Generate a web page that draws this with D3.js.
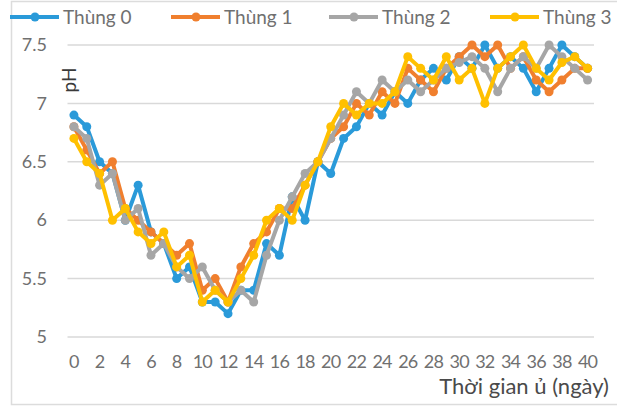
<!DOCTYPE html>
<html>
<head>
<meta charset="utf-8">
<script src="https://cdn.jsdelivr.net/npm/d3@7/dist/d3.min.js"></script>
<style>
  html, body { margin: 0; padding: 0; background: #fff; }
  svg { display: block; font-family: Lato, "Open Sans", sans-serif; }
</style>
</head>
<body>
<svg id="chart" width="617" height="408"></svg>
<script>
// Composting days (0..40) and pH of each bin
const days = d3.range(0, 41);
const dayTicks = [0, 2, 4, 6, 8, 10, 12, 14, 16, 18, 20, 22, 24, 26, 28, 30, 32, 34, 36, 38, 40];
const phTicks = [5, 5.5, 6, 6.5, 7, 7.5];

const thung0 = [6.9, 6.8, 6.5, 6.4, 6.0, 6.3, 5.9, 5.8, 5.5, 5.6, 5.3, 5.3, 5.2, 5.4, 5.4, 5.8, 5.7, 6.2, 6.0, 6.5,
                6.4, 6.7, 6.8, 7.0, 6.9, 7.1, 7.0, 7.2, 7.3, 7.2, 7.4, 7.3, 7.5, 7.3, 7.4, 7.3, 7.1, 7.3, 7.5, 7.4, 7.3];
const thung1 = [6.8, 6.6, 6.4, 6.5, 6.1, 6.0, 5.9, 5.8, 5.7, 5.8, 5.4, 5.5, 5.3, 5.6, 5.8, 5.9, 6.1, 6.1, 6.3, 6.5,
                6.7, 6.8, 7.0, 6.9, 7.1, 7.0, 7.3, 7.2, 7.1, 7.3, 7.4, 7.5, 7.4, 7.5, 7.3, 7.4, 7.2, 7.1, 7.2, 7.3, 7.3];
const thung2 = [6.8, 6.7, 6.3, 6.4, 6.0, 6.1, 5.7, 5.8, 5.6, 5.5, 5.6, 5.4, 5.3, 5.4, 5.3, 5.7, 6.0, 6.2, 6.4, 6.5,
                6.7, 6.9, 7.1, 7.0, 7.2, 7.1, 7.2, 7.1, 7.2, 7.3, 7.35, 7.4, 7.3, 7.1, 7.3, 7.4, 7.3, 7.5, 7.4, 7.3, 7.2];
const thung3 = [6.7, 6.5, 6.4, 6.0, 6.1, 5.9, 5.8, 5.9, 5.6, 5.7, 5.3, 5.4, 5.3, 5.5, 5.7, 6.0, 6.1, 6.0, 6.3, 6.5,
                6.8, 7.0, 6.9, 7.0, 7.0, 7.1, 7.4, 7.3, 7.2, 7.4, 7.2, 7.3, 7.0, 7.3, 7.4, 7.5, 7.3, 7.2, 7.35, 7.4, 7.3];

const seriesNames = ["Thùng 0", "Thùng 1", "Thùng 2", "Thùng 3"];
const seriesColors = ["#2a9ad9", "#f07f2e", "#a6a6a6", "#ffc000"];
const seriesValues = [thung0, thung1, thung2, thung3];

const svg = d3.select("#chart");

// chart frame
svg.append("rect")
  .attr("x", 11.5).attr("y", 1.5).attr("width", 640).attr("height", 403)
  .attr("fill", "none").attr("stroke", "#dcdcdc").attr("stroke-width", 1.5);

const plot = { left: 67.5, right: 594, top: 45, bottom: 337 };

const x = d3.scaleBand().domain(days).range([plot.left, plot.right]);
const xc = d => x(d) + x.bandwidth() / 2;
const y = d3.scaleLinear().domain([5, 7.5]).range([plot.bottom, plot.top]);

// horizontal gridlines
svg.append("g")
  .selectAll("line").data(phTicks).join("line")
  .attr("x1", plot.left).attr("x2", plot.right)
  .attr("y1", d => y(d)).attr("y2", d => y(d))
  .attr("stroke", "#d9d9d9").attr("stroke-width", 1.5);

// y axis labels
const yAxis = d3.axisLeft(y).tickValues(phTicks).tickFormat(d3.format("")).tickSize(0).tickPadding(0);
const gy = svg.append("g").attr("transform", "translate(47,0)").call(yAxis);
gy.select(".domain").remove();
gy.selectAll("text").attr("font-size", 18).attr("fill", "#707070").attr("font-family", "Lato, sans-serif");

// x axis labels
const xAxis = d3.axisBottom(x).tickValues(dayTicks).tickSize(0).tickPadding(0);
const gx = svg.append("g").attr("transform", `translate(0,${plot.bottom + 18})`).call(xAxis);
gx.select(".domain").remove();
gx.selectAll("text").attr("font-size", 18).attr("fill", "#707070")
  .attr("font-family", "Lato, sans-serif").attr("letter-spacing", -0.8);

// axis titles
svg.append("text")
  .attr("transform", "translate(76,80) rotate(-90)")
  .attr("text-anchor", "middle")
  .attr("font-size", 19).attr("fill", "#3a3a3a")
  .text("pH");

svg.append("text")
  .attr("x", 609).attr("y", 394)
  .attr("text-anchor", "end")
  .attr("font-size", 22).attr("fill", "#4a4a4a")
  .text("Thời gian ủ (ngày)");

// series lines and markers
const line = d3.line().x((d, i) => xc(days[i])).y(d => y(d));
seriesValues.forEach((vals, k) => {
  const g = svg.append("g");
  g.append("path").datum(vals)
    .attr("d", line)
    .attr("fill", "none")
    .attr("stroke", seriesColors[k])
    .attr("stroke-width", 4)
    .attr("stroke-linejoin", "round");
  g.selectAll("circle").data(vals).join("circle")
    .attr("cx", (d, i) => xc(days[i]))
    .attr("cy", d => y(d))
    .attr("r", 4.5)
    .attr("fill", seriesColors[k]);
});

// legend
const legendX = [10, 171, 329, 490];
const leg = svg.append("g");
seriesNames.forEach((name, k) => {
  const g = leg.append("g").attr("transform", `translate(${legendX[k]},17)`);
  g.append("line").attr("x1", 0).attr("x2", 49).attr("y1", 0).attr("y2", 0)
    .attr("stroke", seriesColors[k]).attr("stroke-width", 4);
  g.append("circle").attr("cx", 25).attr("cy", 0).attr("r", 4.5).attr("fill", seriesColors[k]);
  g.append("text").attr("x", 53).attr("y", 6.5)
    .attr("font-size", 19).attr("fill", "#707070")
    .text(name);
});
</script>
</body>
</html>
